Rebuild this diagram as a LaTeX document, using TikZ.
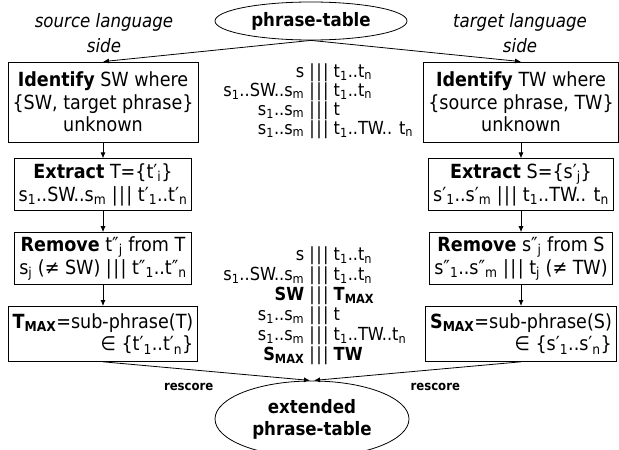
\documentclass[tikz,border=0pt]{standalone}
\usepackage{fontspec}
\setmainfont{DejaVu Sans Condensed}
\usetikzlibrary{arrows.meta,positioning,shapes.geometric}

\newcommand{\sbs}[1]{\textsubscript{#1}}
\newcommand{\bars}{|\kern1.4pt|\kern1.4pt|}
% one row of a phrase-table entry, the bars stay on the node centre
\newcommand{\prow}[2]{\makebox[100pt][r]{#1}\ \bars\ \makebox[100pt][l]{#2}}

\begin{document}
\begin{tikzpicture}[
  x=1pt, y=-1pt,
  node distance=21pt,
  stepbox/.style={draw, line width=0.8pt, align=center, inner xsep=4.5pt, inner ysep=2pt,
                  font=\fontsize{19.5}{22.5}\selectfont},
  tabell/.style={draw, ellipse, line width=0.8pt, align=center, inner sep=0pt,
                 font=\bfseries\fontsize{18.5}{22}\selectfont},
  sidelbl/.style={align=center, font=\itshape\fontsize{18.5}{25}\selectfont},
  ptrows/.style={align=center, font=\fontsize{18}{17.8}\selectfont},
  rlbl/.style={font=\bfseries\fontsize{13}{15}\selectfont},
  seta/.style={-{Latex[length=6pt,width=5pt]}, line width=0.8pt}
]
\useasboundingbox (0,0) rectangle (619,450);

\node[tabell, minimum width=192pt, minimum height=38pt] (pt) at (311,21) {phrase-table};
\node[sidelbl] (srcside) at (104,33) {source language\\side};
\node[sidelbl] (tgtside) at (520,33) {target language\\side};

% source language column
\node[stepbox, minimum height=80pt] (idS) at (103,102) {\textbf{Identify} SW where\\\{SW, target phrase\}\\unknown};
\node[stepbox, minimum height=52pt, below=16pt of idS] (exS) {\textbf{Extract} T=\{t′\sbs{i}\}\\s\sbs{1}..SW..s\sbs{m} \bars\ t′\sbs{1}..t′\sbs{n}};
\node[stepbox, minimum height=52pt, below=of exS] (rmS) {\textbf{Remove} t″\sbs{j} from T\\s\sbs{j} (≠ SW) \bars\ t″\sbs{1}..t″\sbs{n}};
\node[stepbox, minimum height=55pt, align=right, below=of rmS] (maxS) {\textbf{T\sbs{MAX}}=sub-phrase(T)\\∈ \{t′\sbs{1}..t′\sbs{n}\}};

% target language column
\node[stepbox, minimum height=80pt] (idT) at (521,102) {\textbf{Identify} TW where\\\{source phrase, TW\}\\unknown};
\node[stepbox, minimum height=52pt, below=16pt of idT] (exT) {\textbf{Extract} S=\{s′\sbs{j}\}\\s′\sbs{1}..s′\sbs{m} \bars\ t\sbs{1}..TW.. t\sbs{n}};
\node[stepbox, minimum height=52pt, below=of exT] (rmT) {\textbf{Remove} s″\sbs{j} from S\\s″\sbs{1}..s″\sbs{m} \bars\ t\sbs{j} (≠ TW)};
\node[stepbox, minimum height=55pt, align=right, below=of rmT] (maxT) {\textbf{S\sbs{MAX}}=sub-phrase(S)\\∈ \{s′\sbs{1}..s′\sbs{n}\}};

% table entries before and after
\node[ptrows] (ptold) at (319,101) {\prow{s}{t\sbs{1}..t\sbs{n}}\\
  \prow{s\sbs{1}..SW..s\sbs{m}}{t\sbs{1}..t\sbs{n}}\\
  \prow{s\sbs{1}..s\sbs{m}}{t}\\
  \prow{s\sbs{1}..s\sbs{m}}{t\sbs{1}..TW.. t\sbs{n}}};
\node[ptrows, font=\fontsize{18}{20}\selectfont] (ptnew) at (319,306) {\prow{s}{t\sbs{1}..t\sbs{n}}\\
  \prow{s\sbs{1}..SW..s\sbs{m}}{t\sbs{1}..t\sbs{n}}\\
  \prow{\textbf{SW}}{\textbf{T\sbs{MAX}}}\\
  \prow{s\sbs{1}..s\sbs{m}}{t}\\
  \prow{s\sbs{1}..s\sbs{m}}{t\sbs{1}..TW..t\sbs{n}}\\
  \prow{\textbf{S\sbs{MAX}}}{\textbf{TW}}};

\node[tabell, minimum width=194pt, minimum height=76pt] (ept) at (312,419) {extended\\phrase-table};

\draw[seta] (pt.south) -- (idS.north);
\draw[seta] (pt.south) -- (idT.north);
\draw[seta] (idS) -- (exS);
\draw[seta] (exS) -- (rmS);
\draw[seta] (rmS) -- (maxS);
\draw[seta] (idT) -- (exT);
\draw[seta] (exT) -- (rmT);
\draw[seta] (rmT) -- (maxT);
\draw[seta, shorten >=2pt] (maxS.south) -- (ept.north)
  node[rlbl, pos=0.41, below=10pt] {rescore};
\draw[seta, shorten >=2pt] (maxT.south) -- (ept.north)
  node[rlbl, pos=0.41, below=10pt] {rescore};
\end{tikzpicture}
\end{document}
